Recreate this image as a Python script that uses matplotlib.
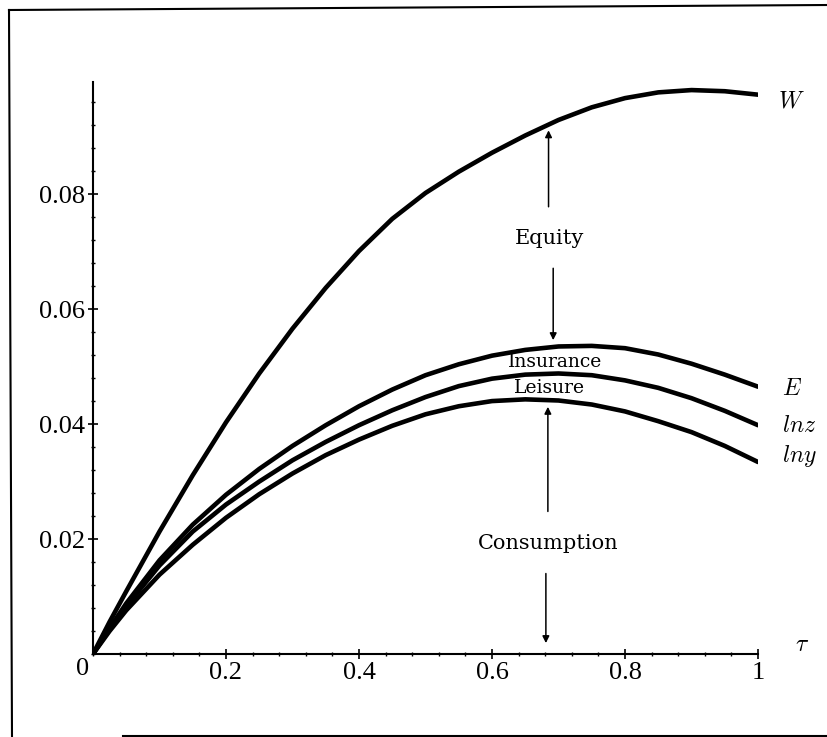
import numpy as np
import matplotlib
matplotlib.use("Agg")
import matplotlib.pyplot as plt
from matplotlib.lines import Line2D
from matplotlib.ticker import MultipleLocator

plt.rcParams["mathtext.fontset"] = "cm"

# values
tau = [0, 0.025, 0.05, 0.1, 0.15, 0.2, 0.25, 0.3, 0.35, 0.4, 0.45, 0.5,
       0.55, 0.6, 0.65, 0.7, 0.75, 0.8, 0.85, 0.9, 0.95, 1.0]
W = [0, 0.0056, 0.0109, 0.0213, 0.0311, 0.0403, 0.0488, 0.0566, 0.0637, 0.0701, 0.0757, 0.0802,
     0.0839, 0.0872, 0.0902, 0.0929, 0.0951, 0.0967, 0.0977, 0.0981, 0.0979, 0.0973]
E = [0, 0.0045, 0.0088, 0.0163, 0.0225, 0.0277, 0.0322, 0.0362, 0.0398, 0.0431, 0.0460, 0.0485,
     0.0504, 0.0519, 0.0529, 0.0535, 0.0536, 0.0532, 0.0521, 0.0505, 0.0486, 0.0465]
lnz = [0, 0.0043, 0.0083, 0.0154, 0.0213, 0.0260, 0.0300, 0.0337, 0.0369, 0.0398, 0.0424, 0.0447,
       0.0466, 0.0479, 0.0486, 0.0488, 0.0485, 0.0476, 0.0463, 0.0445, 0.0423, 0.0398]
lny = [0, 0.0040, 0.0076, 0.0138, 0.0190, 0.0237, 0.0278, 0.0314, 0.0346, 0.0373, 0.0397, 0.0417,
       0.0431, 0.0440, 0.0443, 0.0441, 0.0434, 0.0422, 0.0405, 0.0386, 0.0362, 0.0334]

series = [W, E, lnz, lny]
series_names = [r"$W$", r"$E$", r"$lnz$", r"$lny$"]

x_ticks = [0.2, 0.4, 0.6, 0.8, 1]
x_ticklabels = ["0.2", "0.4", "0.6", "0.8", "1"]
y_ticks = [0.02, 0.04, 0.06, 0.08]
y_ticklabels = ["0.02", "0.04", "0.06", "0.08"]

fig = plt.figure(figsize=(8.28, 7.37), dpi=100)
ax = fig.add_axes([0.1123, 0.1126, 0.8032, 0.7761])

# curves
for s in series:
    ax.plot(tau, s, color="black", lw=3.3, solid_joinstyle="round", solid_capstyle="round")

ax.set_xlim(0, 1)
ax.set_ylim(0, 0.0995)

# axes in the maple style: only left and bottom, ticks crossing the line
ax.spines["top"].set_visible(False)
ax.spines["right"].set_visible(False)
ax.spines["left"].set_linewidth(1.5)
ax.spines["bottom"].set_linewidth(1.5)

ax.set_xticks(x_ticks)
ax.set_xticklabels(x_ticklabels)
ax.set_yticks(y_ticks)
ax.set_yticklabels(y_ticklabels)
ax.xaxis.set_minor_locator(MultipleLocator(0.04))
ax.yaxis.set_minor_locator(MultipleLocator(0.004))
ax.tick_params(which="major", direction="inout", length=7, width=1.2, pad=2)
ax.tick_params(which="minor", direction="inout", length=3.5, width=1.0)
for lab in ax.get_xticklabels() + ax.get_yticklabels():
    lab.set_fontfamily("Liberation Serif")
    lab.set_fontsize(19)

# the shared origin label
ax.annotate("0", xy=(0, 0), xytext=(-3, -3), textcoords="offset points",
            ha="right", va="top", fontsize=19, family="Liberation Serif")

# curve names at the right end
name_y = [0.0951, 0.0450, 0.0387, 0.0334]
name_x = [1.030, 1.036, 1.036, 1.036]
for nm, xx, yy in zip(series_names, name_x, name_y):
    ax.text(xx, yy, nm, fontsize=17, ha="left", va="baseline", clip_on=False)
ax.text(1.056, 0.0006, r"$\tau$", fontsize=17, ha="left", va="baseline", clip_on=False)

# region labels and arrows
txt_font = "DejaVu Serif"
ax.text(0.687, 0.0723, "Equity", fontsize=15, family=txt_font, ha="center", va="center")
ax.text(0.695, 0.0508, "Insurance", fontsize=13.5, family=txt_font, ha="center", va="center")
ax.text(0.687, 0.0462, "Leisure", fontsize=13.5, family=txt_font, ha="center", va="center")
ax.text(0.684, 0.0193, "Consumption", fontsize=15, family=txt_font, ha="center", va="center")

arrow = dict(arrowstyle="-|>", lw=1.1, color="black", mutation_scale=10, shrinkA=0, shrinkB=0)
ax.annotate("", xy=(0.685, 0.0911), xytext=(0.685, 0.0778), arrowprops=arrow)
ax.annotate("", xy=(0.692, 0.0546), xytext=(0.692, 0.0671), arrowprops=arrow)
ax.annotate("", xy=(0.684, 0.0430), xytext=(0.684, 0.0248), arrowprops=arrow)
ax.annotate("", xy=(0.681, 0.0019), xytext=(0.681, 0.0140), arrowprops=arrow)

# outer box of the scanned figure (no right side)
W_px, H_px = 828.0, 737.0
frame = [((9, 10), (12, 737)), ((9, 10), (828, 5)), ((123, 736), (828, 736))]
for (x0, y0), (x1, y1) in frame:
    fig.add_artist(Line2D([x0 / W_px, x1 / W_px], [1 - y0 / H_px, 1 - y1 / H_px],
                          transform=fig.transFigure, color="black", lw=1.5))

plt.savefig("out.png", dpi=100)
